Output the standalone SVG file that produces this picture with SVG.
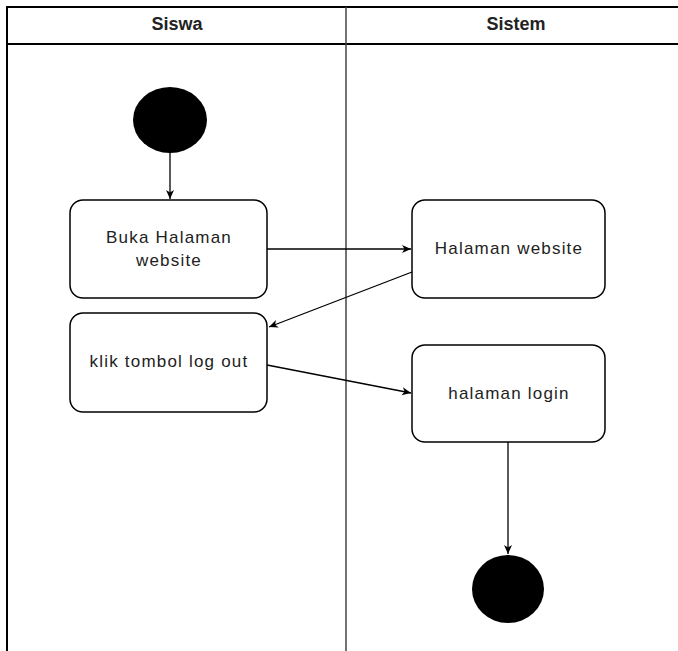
<svg xmlns="http://www.w3.org/2000/svg" width="678" height="651" viewBox="0 0 678 651">
<style>
.lane{fill:none;stroke:#000;stroke-width:2}
.node{fill:#fff;stroke:#000;stroke-width:1.5}
.hdr{font-family:"Liberation Sans",Arial,sans-serif;font-size:18px;font-weight:bold;fill:#222;text-anchor:middle}
.lbl{font-family:"Liberation Sans",Arial,sans-serif;font-size:17px;letter-spacing:1.2px;fill:#222;text-anchor:middle}
.edge{fill:none;stroke:#000;stroke-width:1.3;marker-end:url(#arr)}
</style>
<defs>
<marker id="arr" markerWidth="10" markerHeight="10" refX="9" refY="5" orient="auto" markerUnits="userSpaceOnUse">
<path d="M0,1 L9,5 L0,9 L2.5,5 Z" fill="#000"/>
</marker>
</defs>
<rect width="678" height="651" fill="#fff"/>
<g id="pool">
<path class="lane" d="M7,651 V7 H678"/>
<path class="lane" d="M7,44 H678"/>
<path d="M346,7 V651" stroke="#444" stroke-width="1.5" fill="none"/>
<text class="hdr" x="177" y="30">Siswa</text>
<text class="hdr" x="516" y="30">Sistem</text>
</g>
<g id="start"><ellipse cx="170" cy="120" rx="37" ry="33" fill="#000"/></g>
<g id="buka">
<rect class="node" x="70" y="200" width="197" height="98" rx="13"/>
<text class="lbl" x="169" y="243">Buka Halaman</text>
<text class="lbl" x="169" y="266">website</text>
</g>
<g id="klik">
<rect class="node" x="70" y="313" width="197" height="99" rx="13"/>
<text class="lbl" x="169" y="367">klik tombol log out</text>
</g>
<g id="halweb">
<rect class="node" x="412" y="200" width="193" height="98" rx="13"/>
<text class="lbl" x="509" y="254">Halaman website</text>
</g>
<g id="login">
<rect class="node" x="412" y="345" width="193" height="97" rx="13"/>
<text class="lbl" x="509" y="399">halaman login</text>
</g>
<g id="end"><ellipse cx="508" cy="589" rx="36" ry="34" fill="#000"/></g>
<g id="connectors">
<path class="edge" d="M170,153 V199"/>
<path class="edge" d="M267,249 H411"/>
<path class="edge" d="M412,272 L269,327"/>
<path class="edge" d="M267,365 L411,393"/>
<path class="edge" d="M508,442 V554"/>
</g>
</svg>
